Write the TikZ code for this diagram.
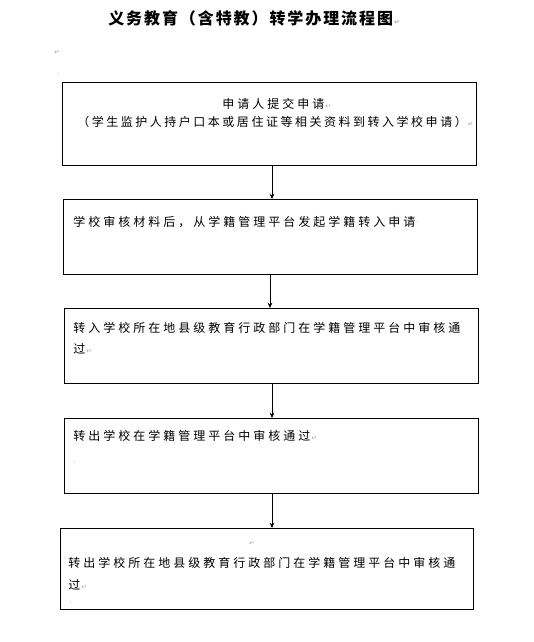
\documentclass[tikz,border=0pt]{standalone}
\usepackage{fontspec}
\newfontfamily\cjk[LetterSpace=25]{Noto Sans CJK SC}
\newfontfamily\cjknarrow[LetterSpace=21]{Noto Sans CJK SC}
\newfontfamily\cjktitle[LetterSpace=12]{Noto Sans CJK SC}
\newfontfamily\sym{DejaVu Sans}
\usetikzlibrary{arrows.meta}
\tikzset{
  box/.style={draw=black, line width=0.75pt, inner sep=0pt, outer sep=0pt, fill=white},
  txt/.style={anchor=west, inner sep=0pt, font=\cjk\fontsize{9pt}{11pt}\selectfont},
  arr/.style={draw=black, line width=0.6pt, -{Stealth[length=4pt,width=3.5pt]}},
  pmark/.style={inner sep=0pt, text=gray!70, font=\sym\fontsize{5pt}{6pt}\selectfont},
  cmark/.style={inner sep=0pt, text=gray!60, font=\sym\fontsize{3pt}{4pt}\selectfont},
}
\newcommand{\rt}{{\color{gray!70}\sym\fontsize{5pt}{6pt}\selectfont\,↵}}
\begin{document}
\begin{tikzpicture}[x=0.75pt,y=-0.75pt]
\useasboundingbox[fill=white] (0,0) rectangle (533,642);
% title
\node[inner sep=0pt, anchor=west, font=\cjktitle\bfseries\fontsize{12pt}{14pt}\selectfont] (title) at (108,18) {义务教育（含特教）转学办理流程图\rt};
\node[pmark] (m1) at (57,52) {↵};
\node[cmark] (m2) at (58,74) {˩};
% boxes
\node[box, minimum width=310.5pt, minimum height=61.5pt] (b1) at (269,124) {};
\node[box, minimum width=310.5pt, minimum height=56.25pt] (b2) at (270,236.5) {};
\node[box, minimum width=310.5pt, minimum height=56.25pt] (b3) at (271,345.5) {};
\node[box, minimum width=310.5pt, minimum height=56.25pt] (b4) at (271,455.5) {};
\node[box, minimum width=309.75pt, minimum height=60.75pt] (b5) at (266.5,568.5) {};
% texts
\node[txt] (t1a) at (222,104) {申请人提交申请\rt};
\node[txt, font=\cjknarrow\fontsize{9pt}{11pt}\selectfont] (t1b) at (77,122) {（学生监护人持户口本或居住证等相关资料到转入学校申请）\rt};
\node[txt] (t2) at (73,222) {学校审核材料后，从学籍管理平台发起学籍转入申请};
\node[cmark, anchor=west] (m3) at (t2.east) {˩};
\node[txt] (t3a) at (73,328) {转入学校所在地县级教育行政部门在学籍管理平台中审核通};
\node[txt] (t3b) at (73,349) {过\rt};
\node[txt] (t4) at (73,436) {转出学校在学籍管理平台中审核通过\rt};
\node[cmark] (m4) at (74,462) {˩};
\node[pmark] (m5) at (252,543) {↵};
\node[txt] (t5a) at (68,563) {转出学校所在地县级教育行政部门在学籍管理平台中审核通};
\node[txt] (t5b) at (68,585) {过\rt};
\node[cmark] (m6) at (70,602) {˩};
% arrows
\coordinate (ax) at (272,0);
\coordinate (ay) at (270,0);
\draw[arr] (b1.south -| ax) -- (b2.north -| ax);
\draw[arr] (b2.south -| ay) -- (b3.north -| ay);
\draw[arr] (b3.south -| ax) -- (b4.north -| ax);
\draw[arr] (b4.south -| ax) -- (b5.north -| ax);
\end{tikzpicture}
\end{document}
